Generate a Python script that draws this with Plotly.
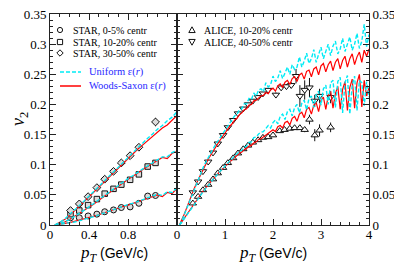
import plotly.graph_objects as go

# ---------------- data ----------------
# STAR (left panel)
star_pt = [0.21, 0.30, 0.39, 0.48, 0.56, 0.65, 0.73, 0.82, 0.91, 1.00, 1.08]
star_0_5 = [0.012, 0.012, 0.015, 0.018, 0.022, 0.025, 0.029, 0.030, 0.036, 0.048, 0.049]
star_10_20 = [0.018, 0.024, 0.033, 0.043, 0.052, 0.060, 0.067, 0.075, 0.084, 0.097, 0.103]
star_30_50_pt = [0.21, 0.30, 0.39, 0.48, 0.56, 0.65, 0.73, 0.82, 0.91, 1.08]
star_30_50 = [0.024, 0.035, 0.047, 0.062, 0.076, 0.089, 0.103, 0.115, 0.129, 0.171]
star_30_50_err = [0.002, 0.002, 0.002, 0.002, 0.002, 0.002, 0.002, 0.003, 0.003, 0.007]

# model curves, left panel
pt_left = [0.05, 0.10, 0.15, 0.20, 0.25, 0.30, 0.35, 0.40, 0.45, 0.50, 0.55, 0.60, 0.65,
           0.70, 0.75, 0.80, 0.85, 0.90, 0.95, 1.00, 1.05, 1.10, 1.15, 1.20, 1.25, 1.30]
ws_0_5 = [0.000, 0.001, 0.002, 0.004, 0.006, 0.008, 0.010, 0.012, 0.015, 0.017, 0.020, 0.023, 0.025,
          0.028, 0.031, 0.033, 0.036, 0.039, 0.041, 0.044, 0.047, 0.050, 0.047, 0.054, 0.052, 0.061]
uni_0_5 = [0.000, 0.001, 0.002, 0.003, 0.005, 0.007, 0.010, 0.012, 0.014, 0.017, 0.020, 0.022, 0.025,
           0.028, 0.031, 0.034, 0.036, 0.039, 0.042, 0.045, 0.047, 0.051, 0.049, 0.055, 0.054, 0.062]
ws_10_20 = [0.000, 0.002, 0.005, 0.009, 0.014, 0.019, 0.024, 0.030, 0.035, 0.041, 0.047, 0.053, 0.058,
            0.064, 0.070, 0.076, 0.081, 0.087, 0.092, 0.097, 0.102, 0.106, 0.112, 0.110, 0.119, 0.122]
uni_10_20 = [0.000, 0.002, 0.005, 0.009, 0.014, 0.019, 0.025, 0.030, 0.036, 0.042, 0.048, 0.054, 0.059,
             0.065, 0.071, 0.077, 0.082, 0.088, 0.093, 0.098, 0.103, 0.108, 0.113, 0.113, 0.120, 0.124]
ws_30_50 = [0.000, 0.004, 0.009, 0.016, 0.023, 0.031, 0.039, 0.047, 0.055, 0.063, 0.071, 0.079, 0.087,
            0.095, 0.103, 0.110, 0.118, 0.126, 0.133, 0.140, 0.147, 0.154, 0.161, 0.166, 0.174, 0.182]
uni_30_50 = [0.000, 0.004, 0.010, 0.017, 0.024, 0.032, 0.040, 0.048, 0.057, 0.065, 0.073, 0.081, 0.089,
             0.097, 0.105, 0.113, 0.121, 0.129, 0.137, 0.144, 0.151, 0.159, 0.165, 0.173, 0.179, 0.188]

# ALICE (right panel)
alice_lo_pt = [0.33, 0.44, 0.54, 0.65, 0.75, 0.85, 0.96, 1.06, 1.17, 1.27, 1.38, 1.48, 1.58, 1.69,
               1.79, 1.90, 2.00, 2.14, 2.24, 2.35, 2.45, 2.56, 2.66, 2.76, 2.87, 2.97, 3.20]
alice_10_20 = [0.036, 0.047, 0.058, 0.067, 0.076, 0.086, 0.095, 0.103, 0.111, 0.119, 0.126, 0.132, 0.137,
               0.141, 0.145, 0.146, 0.149, 0.156, 0.158, 0.160, 0.161, 0.161, 0.158, 0.175, 0.149, 0.157, 0.162]
alice_10_20_err = [0, 0, 0, 0, 0, 0, 0, 0, 0, 0, 0, 0, 0, 0, 0, 0, 0.002, 0.002, 0.002, 0.002, 0.003,
                   0.003, 0.004, 0.008, 0.010, 0.010, 0.008]
alice_hi_pt = [0.33, 0.44, 0.54, 0.65, 0.75, 0.85, 0.96, 1.06, 1.17, 1.27, 1.38, 1.48, 1.58, 1.69,
               1.79, 1.90, 2.06, 2.17, 2.28, 2.38, 2.48, 2.56, 2.66, 2.76, 2.87, 2.97, 3.20]
alice_40_50 = [0.054, 0.072, 0.089, 0.105, 0.120, 0.135, 0.149, 0.162, 0.174, 0.185, 0.193, 0.200, 0.206,
               0.212, 0.218, 0.224, 0.216, 0.228, 0.230, 0.232, 0.247, 0.214, 0.224, 0.228, 0.206, 0.214, 0.212]
alice_40_50_err = [0, 0, 0, 0, 0, 0, 0, 0, 0, 0, 0, 0, 0, 0, 0, 0.003, 0.004, 0.004, 0.004, 0.005, 0.012,
                   0.018, 0.016, 0.016, 0.010, 0.012, 0.010]

pt_right = [0.05, 0.10, 0.15, 0.20, 0.25, 0.30, 0.35, 0.40, 0.45, 0.50, 0.55, 0.60, 0.65, 0.70, 0.75, 0.80,
            0.85, 0.90, 0.95, 1.00, 1.05, 1.10, 1.15, 1.20, 1.25, 1.30, 1.35, 1.40, 1.45, 1.50, 1.55, 1.60,
            1.65, 1.70, 1.75, 1.80, 1.85, 1.90, 1.95, 2.00, 2.05, 2.10, 2.15, 2.20, 2.25, 2.30, 2.35, 2.40,
            2.45, 2.50, 2.55, 2.60, 2.65, 2.70, 2.75, 2.80, 2.85, 2.90, 2.95, 3.00, 3.05, 3.10, 3.15, 3.20,
            3.25, 3.30, 3.35, 3.40, 3.45, 3.50, 3.55, 3.60, 3.65, 3.70, 3.75, 3.80, 3.85, 3.90, 3.95, 4.00]
ws_40_50 = [0.000, 0.008, 0.018, 0.028, 0.039, 0.049, 0.059, 0.068, 0.077, 0.085, 0.094, 0.101, 0.109, 0.116, 0.122, 0.129,
            0.135, 0.141, 0.147, 0.153, 0.158, 0.164, 0.168, 0.174, 0.177, 0.183, 0.186, 0.191, 0.193, 0.199, 0.200,
            0.206, 0.207, 0.211, 0.214, 0.215, 0.220, 0.218, 0.224, 0.227, 0.222, 0.231, 0.234, 0.228, 0.237, 0.240,
            0.233, 0.243, 0.246, 0.238, 0.249, 0.252, 0.242, 0.255, 0.257, 0.246, 0.259, 0.262, 0.249, 0.264, 0.268,
            0.254, 0.266, 0.272, 0.256, 0.270, 0.276, 0.259, 0.273, 0.280, 0.262, 0.276, 0.284, 0.266, 0.279, 0.287,
            0.270, 0.290, 0.280, 0.292]
uni_40_50 = [0.000, 0.007, 0.017, 0.027, 0.038, 0.049, 0.059, 0.069, 0.078, 0.087, 0.096, 0.104, 0.112, 0.119, 0.126, 0.133,
             0.139, 0.146, 0.152, 0.158, 0.163, 0.170, 0.174, 0.181, 0.184, 0.191, 0.193, 0.201, 0.201, 0.210, 0.208,
             0.219, 0.214, 0.224, 0.226, 0.221, 0.236, 0.229, 0.233, 0.247, 0.238, 0.244, 0.256, 0.243, 0.252, 0.262,
             0.250, 0.266, 0.258, 0.262, 0.279, 0.262, 0.272, 0.285, 0.268, 0.276, 0.291, 0.270, 0.283, 0.295, 0.276,
             0.288, 0.300, 0.281, 0.297, 0.305, 0.284, 0.292, 0.310, 0.288, 0.302, 0.312, 0.290, 0.300, 0.318, 0.293,
             0.305, 0.333, 0.296, 0.316]
ws_10_20r = [0.000, 0.005, 0.011, 0.017, 0.023, 0.029, 0.035, 0.041, 0.046, 0.052, 0.057, 0.062, 0.067, 0.071, 0.076, 0.080,
             0.085, 0.089, 0.093, 0.098, 0.101, 0.105, 0.108, 0.112, 0.115, 0.119, 0.121, 0.125, 0.127, 0.131, 0.132,
             0.136, 0.138, 0.142, 0.143, 0.146, 0.149, 0.151, 0.154, 0.158, 0.155, 0.163, 0.165, 0.161, 0.170, 0.172,
             0.166, 0.177, 0.180, 0.172, 0.184, 0.187, 0.178, 0.192, 0.195, 0.184, 0.199, 0.203, 0.188, 0.207, 0.212,
             0.192, 0.214, 0.222, 0.194, 0.218, 0.230, 0.192, 0.225, 0.238, 0.190, 0.228, 0.242, 0.194, 0.236, 0.250,
             0.196, 0.240, 0.214, 0.228]
uni_10_20r = [0.000, 0.004, 0.010, 0.016, 0.022, 0.028, 0.034, 0.040, 0.046, 0.051, 0.056, 0.061, 0.066, 0.071, 0.076, 0.080,
              0.085, 0.089, 0.094, 0.098, 0.102, 0.106, 0.110, 0.114, 0.117, 0.122, 0.124, 0.129, 0.131, 0.137, 0.138,
              0.145, 0.146, 0.151, 0.154, 0.155, 0.160, 0.165, 0.161, 0.170, 0.174, 0.168, 0.180, 0.184, 0.175, 0.188,
              0.192, 0.181, 0.195, 0.200, 0.186, 0.202, 0.207, 0.191, 0.210, 0.214, 0.195, 0.216, 0.222, 0.199, 0.226,
              0.232, 0.200, 0.236, 0.240, 0.195, 0.238, 0.245, 0.186, 0.236, 0.248, 0.184, 0.232, 0.247, 0.190, 0.240,
              0.236, 0.198, 0.238, 0.212]

# legend labels
star_labels = ["STAR, 0-5% centr", "STAR, 10-20% centr", "STAR, 30-50% centr"]
alice_labels = ["ALICE, 10-20% centr", "ALICE, 40-50% centr"]
model_labels = ["Uniform ε(<i>r</i>)", "Woods-Saxon ε(<i>r</i>)"]
y_ticks = [0, 0.05, 0.1, 0.15, 0.2, 0.25, 0.3, 0.35]

# ---------------- style ----------------
# the page body has an 8px default margin: the figure is made 8px smaller
OFF = 8
W, H = 402 - OFF, 266 - OFF
ML, MR, MT, MB = 50 - OFF, 33, 14 - OFF, 41
PW, PH = W - ML - MR, H - MT - MB
SPLIT = 127 / PW
SERIF = "Liberation Serif, Times New Roman, serif"
AX = "#222"
RED = "rgb(255,0,0)"
CYAN = "rgb(0,235,245)"
BLUE = "rgb(40,40,255)"
MFILL = "#dcdcdc"

fig = go.Figure()

def markers(x, y, sym, xa, ya, err=None, fill=MFILL, size=6):
    fig.add_trace(go.Scatter(
        x=x, y=y, mode="markers", xaxis=xa, yaxis=ya, showlegend=False,
        marker=dict(symbol=sym, size=size, color=fill, line=dict(color="#111", width=1)),
        error_y=dict(type="data", array=err, visible=err is not None, thickness=1, width=0, color="#111")
    ))

def curve(x, y, color, dash, xa, ya, w):
    fig.add_trace(go.Scatter(x=x, y=y, mode="lines", xaxis=xa, yaxis=ya, showlegend=False,
                             line=dict(color=color, width=w, dash=dash)))

# left panel
markers(star_pt, star_0_5, "circle", "x", "y")
markers(star_pt, star_10_20, "square", "x", "y", size=5.5)
markers(star_30_50_pt, star_30_50, "diamond", "x", "y", err=star_30_50_err)
for ws, un in [(ws_0_5, uni_0_5), (ws_10_20, uni_10_20), (ws_30_50, uni_30_50)]:
    curve(pt_left, ws, RED, "solid", "x", "y", 1.2)
    curve(pt_left, un, CYAN, "4px,2px", "x", "y", 1.4)

# right panel
markers(alice_lo_pt, alice_10_20, "triangle-up", "x2", "y2", err=alice_10_20_err, fill="white", size=6.5)
markers(alice_hi_pt, alice_40_50, "triangle-down", "x2", "y2", err=alice_40_50_err, fill="white", size=6.5)
for ws, un in [(ws_10_20r, uni_10_20r), (ws_40_50, uni_40_50)]:
    curve(pt_right, ws, RED, "solid", "x2", "y2", 1.2)
    curve(pt_right, un, CYAN, "4px,2px", "x2", "y2", 1.4)

tickfont = dict(family=SERIF, size=13, color="black")
common = dict(showgrid=False, zeroline=False, showline=True, linecolor=AX, linewidth=1,
              ticks="inside", ticklen=6, tickcolor=AX, tickwidth=1, mirror="ticks", tickfont=tickfont,
              ticklabeloverflow="allow")

fig.update_layout(
    width=W, height=H, margin=dict(l=ML, r=MR, t=MT, b=MB, autoexpand=False),
    paper_bgcolor="white", plot_bgcolor="white", showlegend=False,
    xaxis=dict(domain=[0, SPLIT], range=[0, 1.3], tickvals=[0, 0.4, 0.8], anchor="y",
               ticklabelstandoff=-3,
               minor=dict(dtick=0.1, tick0=0, ticklen=3, ticks="inside", tickcolor=AX), **common),
    xaxis2=dict(domain=[SPLIT, 1], range=[0, 4], tickvals=[0, 1, 2, 3, 4], anchor="y2",
                ticklabelstandoff=-3,
                minor=dict(dtick=0.2, tick0=0, ticklen=3, ticks="inside", tickcolor=AX), **common),
    yaxis=dict(range=[0, 0.3501], tickvals=y_ticks, ticktext=[f"{v:g}" for v in y_ticks], anchor="x",
               minor=dict(dtick=0.01, tick0=0, ticklen=3, ticks="inside", tickcolor=AX), **common),
    yaxis2=dict(range=[0, 0.3501], tickvals=y_ticks, ticktext=[f"{v:g}" for v in y_ticks], anchor="x2",
                side="right", matches="y",
                minor=dict(dtick=0.01, tick0=0, ticklen=3, ticks="inside", tickcolor=AX), **common),
)

# page-pixel -> paper coordinates (page pixels as in the reference picture)
def px(xp):
    return (xp - OFF - ML) / PW

def py(yp):
    return (MT + PH - (yp - OFF)) / PH

# axis titles
xtitle = ("<i>p</i><sub><i>T</i></sub><span style=\"font-family:Liberation Sans, Arial, sans-serif;font-size:14px\">"
          " (GeV/c)</span>")
for cx in [114, 273]:
    fig.add_annotation(x=px(cx), y=py(254), xref="paper", yref="paper", text=xtitle, showarrow=False,
                       font=dict(family=SERIF, size=17, color="black"), xanchor="center", yanchor="middle")
fig.add_annotation(x=px(19), y=py(119), xref="paper", yref="paper", text="<i>v</i><sub>2</sub>",
                   showarrow=False, textangle=-90, font=dict(family=SERIF, size=18, color="black"),
                   xanchor="center", yanchor="middle")

# legends (drawn as decoration)
lf = dict(family=SERIF, size=10, color="black")
for lab, yy in zip(star_labels, [30, 42, 53]):
    fig.add_annotation(x=px(71), y=py(yy), xref="paper", yref="paper", text=lab, showarrow=False,
                       font=lf, xanchor="left", yanchor="middle")
for lab, yy in zip(alice_labels, [30, 42]):
    fig.add_annotation(x=px(202), y=py(yy), xref="paper", yref="paper", text=lab, showarrow=False,
                       font=lf, xanchor="left", yanchor="middle")
for lab, yy in zip(model_labels, [72, 86]):
    fig.add_annotation(x=px(87), y=py(yy), xref="paper", yref="paper", text=lab, showarrow=False,
                       font=dict(family=SERIF, size=10.5, color=BLUE), xanchor="left", yanchor="middle")

r = 2.6
shapes = []
lk = dict(color="#111", width=1)
shapes.append(dict(type="circle", xref="paper", yref="paper", x0=px(60 - r), x1=px(60 + r),
                   y0=py(30 + r), y1=py(30 - r), line=lk))
shapes.append(dict(type="rect", xref="paper", yref="paper", x0=px(60 - r), x1=px(60 + r),
                   y0=py(42 + r), y1=py(42 - r), line=lk))
d = 3.2
shapes.append(dict(type="path", xref="paper", yref="paper", line=lk,
                   path=f"M {px(60)} {py(53 - d)} L {px(60 + d)} {py(53)} L {px(60)} {py(53 + d)} L {px(60 - d)} {py(53)} Z"))
t = 3.2
shapes.append(dict(type="path", xref="paper", yref="paper", line=lk,
                   path=f"M {px(192)} {py(30 - t)} L {px(192 + t)} {py(30 + t * 0.8)} L {px(192 - t)} {py(30 + t * 0.8)} Z"))
shapes.append(dict(type="path", xref="paper", yref="paper", line=lk,
                   path=f"M {px(192)} {py(42 + t)} L {px(192 + t)} {py(42 - t * 0.8)} L {px(192 - t)} {py(42 - t * 0.8)} Z"))
shapes.append(dict(type="line", xref="paper", yref="paper", x0=px(60), x1=px(81), y0=py(72), y1=py(72),
                   line=dict(color=CYAN, width=1.5, dash="4px,2px")))
shapes.append(dict(type="line", xref="paper", yref="paper", x0=px(60), x1=px(81), y0=py(86), y1=py(86),
                   line=dict(color=RED, width=1.5)))
fig.update_layout(shapes=shapes)

fig.write_html("out.html")
